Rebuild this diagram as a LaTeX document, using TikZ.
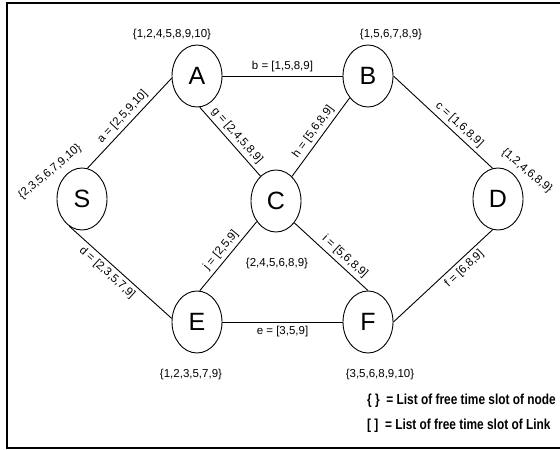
\documentclass[tikz,border=0pt]{standalone}
\usepackage{fontspec}
\setmainfont{Liberation Sans}
\newfontfamily\legendfont[FakeStretch=0.82]{Liberation Sans}
\usetikzlibrary{shapes.geometric}

\begin{document}
\begin{tikzpicture}[x=1pt,y=-1pt,
  vertex/.style={ellipse, draw, line width=0.9pt, minimum width=50pt, minimum height=62pt,
                 inner sep=0pt, font=\fontsize{25}{28}\selectfont},
  link/.style={line width=0.9pt},
  lbl/.style={font=\fontsize{11.5}{13}\selectfont, inner sep=1.5pt},
  slot/.style={lbl, inner sep=3.5pt},
  legend/.style={font=\legendfont\bfseries\fontsize{14.5}{17}\selectfont, anchor=west, inner sep=0pt}
]
\useasboundingbox (0,0) rectangle (560,450);
% frame, open on the right
\draw[line width=1.5pt] (560,3) -- (7,3) -- (7,448) -- (560,448);

% network nodes
\node[vertex] (S) at (82,199) {S};
\node[vertex] (A) at (197,76) {A};
\node[vertex] (B) at (368,76) {B};
\node[vertex] (C) at (276,201) {C};
\node[vertex] (D) at (498,199) {D};
\node[vertex] (E) at (197,322) {E};
\node[vertex] (F) at (368,322) {F};

% links with their free time slots
\draw[link] (S.80) -- node[slot, sloped, above] {a = [2,5,9,10]} (A.185);
\draw[link] (A.east) -- node[slot, above] {b = [1,5,8,9]} (B.west);
\draw[link] (A.-85) -- node[slot, sloped, above] {g = [2,4,5,8,9]} (C.122);
\draw[link] (C.57) -- node[slot, sloped, above] {h = [5,6,8,9]} (B.230);
\draw[link] (B.east) -- node[slot, sloped, above, pos=0.6] {c = [1,6,8,9]} (D.100);
\draw[link] (S.245) -- node[slot, sloped, below, pos=0.43] {d = [2,3,5,7,9]} (E.172);
\draw[link] (E.85) -- node[slot, sloped, above] {j = [2,5,9]} (C.227);
\draw[link] (E.east) -- node[slot, below] {e = [3,5,9]} (F.west);
\draw[link] (C.-50) -- node[slot, sloped, above, pos=0.6] {i = [5,6,8,9]} (F.north);
\draw[link] (F.east) -- node[slot, sloped, below, pos=0.65] {f = [6,8,9]} (D.-100);

% free time slots of the nodes
\node[lbl] (lA) at (172,35) {\{1,2,4,5,8,9,10\}};
\node[lbl] (lB) at (391,35) {\{1,5,6,7,8,9\}};
\node[lbl, rotate=40] (lS) at (50,172) {\{2,3,5,6,7,9,10\}};
\node[lbl, rotate=-40] (lD) at (527,171) {\{1,2,4,6,8,9\}};
\node[lbl] (lC) at (277,264) {\{2,4,5,6,8,9\}};
\node[lbl] (lE) at (191,375) {\{1,2,3,5,7,9\}};
\node[lbl] (lF) at (380,375) {\{3,5,6,8,9,10\}};

% legend
\node[legend] (k1) at (367,401) {\{ \}~~= List of free time slot of node};
\node[legend] (k2) at (367,426) {[ ]~~= List of free time slot of Link};
\end{tikzpicture}
\end{document}
